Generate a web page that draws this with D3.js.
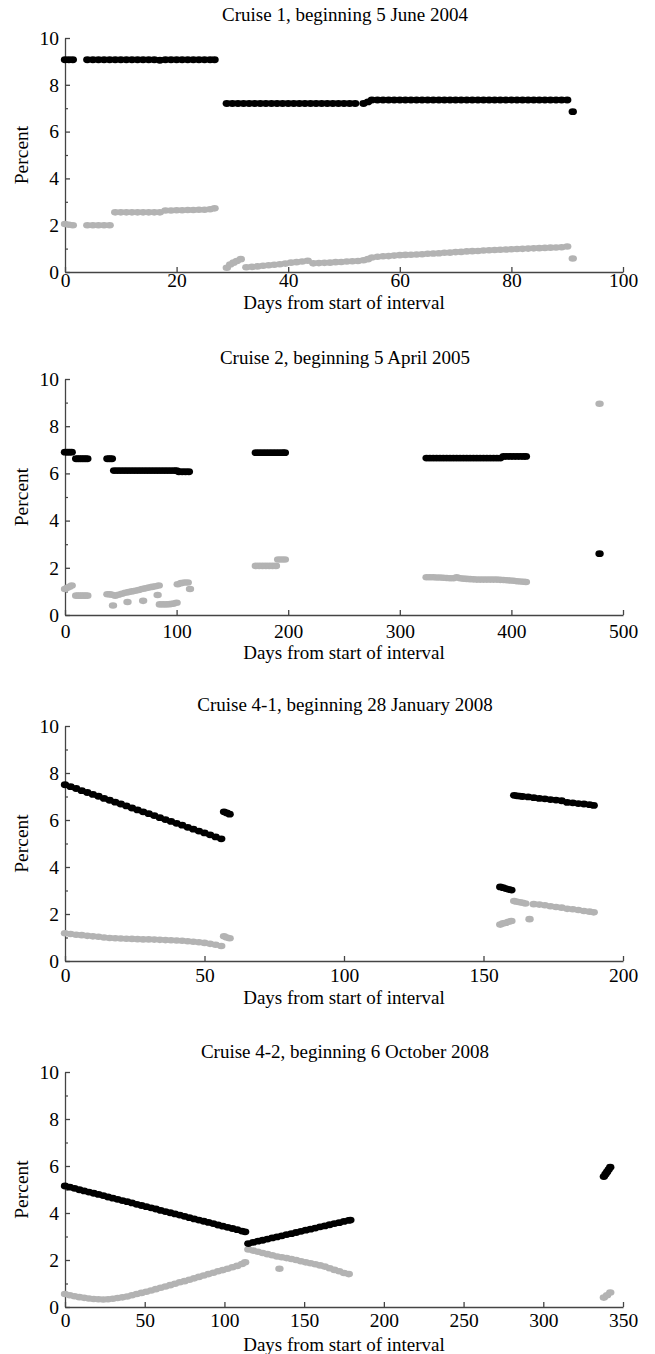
<!DOCTYPE html>
<html><head><meta charset="utf-8">
<script src="https://cdn.jsdelivr.net/npm/d3@7"></script>
<style>
body{margin:0;background:#fff}
svg{display:block}
</style>
</head><body><svg id="chart" width="655" height="1354"></svg>
<script>
// ---------------- DATA ----------------
const titles = [
  "Cruise 1, beginning 5 June 2004",
  "Cruise 2, beginning 5 April 2005",
  "Cruise 4-1, beginning 28 January 2008",
  "Cruise 4-2, beginning 6 October 2008"
];
const xAxisLabel = "Days from start of interval";
const yAxisLabel = "Percent";
const xDomains = [[0,100],[0,500],[0,200],[0,350]];
const xTickValues = [
  [0,20,40,60,80,100],
  [0,100,200,300,400,500],
  [0,50,100,150,200],
  [0,50,100,150,200,250,300,350]
];
const yTickValues = [0,2,4,6,8,10];
const yMinorTickValues = [1,3,5,7,9];

// Cruise 1 — [day, percent]
const cruise1Black = [
  [0,9.07],[0.7,9.07],[1.4,9.07],
  [4,9.07],[5,9.07],[6,9.07],[7,9.07],[8,9.07],[9,9.07],[10,9.07],[11,9.07],[12,9.07],[13,9.07],[14,9.07],[15,9.07],[16,9.07],[17,9.05],[18,9.07],[19,9.07],[20,9.07],[21,9.07],[22,9.07],[23,9.07],[24,9.07],[25,9.07],[26,9.07],[26.8,9.07],
  [29,7.2],[30,7.2],[31,7.2],[32,7.2],[33,7.2],[34,7.2],[35,7.2],[36,7.2],[37,7.2],[38,7.2],[39,7.2],[40,7.2],[41,7.2],[42,7.2],[43,7.2],[44,7.2],[45,7.2],[46,7.2],[47,7.2],[48,7.2],[49,7.2],[50,7.2],[51,7.2],[52,7.2],
  [53.5,7.2],[54.3,7.27],[55,7.35],[56,7.35],[57,7.35],[58,7.35],[59,7.35],[60,7.35],[61,7.35],[62,7.35],[63,7.35],[64,7.35],[65,7.35],[66,7.35],[67,7.35],[68,7.35],[69,7.35],[70,7.35],[71,7.35],[72,7.35],[73,7.35],[74,7.35],[75,7.35],[76,7.35],[77,7.35],[78,7.35],[79,7.35],[80,7.35],[81,7.35],[82,7.35],[83,7.35],[84,7.35],[85,7.35],[86,7.35],[87,7.35],[88,7.35],[89,7.35],[90,7.35],
  [91,6.85]
];
const cruise1Gray = [
  [0,2.05],[0.7,2.02],[1.4,2.0],
  [4,2.0],[5,2.0],[6,2.0],[7,2.0],[8,2.0],
  [9,2.55],[10,2.55],[11,2.55],[12,2.55],[13,2.55],[14,2.55],[15,2.55],[16,2.55],[17,2.55],
  [18,2.63],[19,2.63],[20,2.64],[21,2.64],[22,2.65],[23,2.65],[24,2.66],[25,2.66],[26,2.68],[26.8,2.72],
  [29,0.18],[29.6,0.32],[30.2,0.4],[30.8,0.47],[31.5,0.55],
  [32.5,0.2],[33.5,0.22],[34.5,0.24],[35.5,0.27],[36.5,0.29],[37.5,0.31],[38.5,0.33],[39.5,0.36],[40.5,0.4],[41.5,0.42],[42.5,0.45],[43.5,0.48],
  [44.5,0.37],[45.5,0.38],[46.5,0.39],[47.5,0.4],[48.5,0.42],[49.5,0.43],[50.5,0.45],[51.5,0.46],[52.5,0.47],
  [53.5,0.5],[54.3,0.55],[55,0.62],
  [56,0.65],[57,0.67],[58,0.68],[59,0.7],[60,0.72],[61,0.73],[62,0.74],[63,0.75],[64,0.76],[65,0.78],[66,0.79],[67,0.8],[68,0.82],[69,0.83],[70,0.85],[71,0.86],[72,0.88],[73,0.89],[74,0.9],[75,0.92],[76,0.93],[77,0.94],[78,0.95],[79,0.96],[80,0.97],[81,0.98],[82,0.99],[83,1.0],[84,1.01],[85,1.02],[86,1.03],[87,1.04],[88,1.05],[89,1.06],[90,1.09],
  [91,0.58]
];

// Cruise 2
const cruise2Black = [
  [0,6.9],[2,6.9],[4,6.9],[6,6.9],
  [10,6.62],[12,6.62],[14,6.62],[16,6.62],[18,6.62],[20,6.62],
  [38,6.62],[40,6.62],[42,6.62],
  [44,6.12],[47,6.12],[50,6.12],[53,6.12],[56,6.12],[59,6.12],[62,6.12],[65,6.12],[68,6.12],[71,6.12],[74,6.12],[77,6.12],[80,6.12],[83,6.12],[86,6.12],[89,6.12],[92,6.12],[95,6.12],[98,6.12],[100,6.12],
  [102,6.07],[105,6.07],[108,6.07],[111,6.07],
  [171,6.88],[174,6.88],[177,6.88],[180,6.88],[183,6.88],[186,6.88],[189,6.88],[192,6.88],[195,6.88],[197,6.88],
  [324,6.65],[327,6.65],[330,6.65],[333,6.65],[336,6.65],[339,6.65],[342,6.65],[345,6.65],[348,6.65],[351,6.65],[354,6.65],[357,6.65],[360,6.65],[363,6.65],[366,6.65],[369,6.65],[372,6.65],[375,6.65],[378,6.65],[381,6.65],[384,6.65],[387,6.65],[390,6.65],
  [393,6.72],[396,6.72],[399,6.72],[402,6.72],[405,6.72],[408,6.72],[411,6.72],[413,6.72],
  [479,2.6]
];
const cruise2Gray = [
  [0,1.1],[2,1.15],[4,1.2],[6,1.25],
  [10,0.82],[12,0.82],[14,0.82],[16,0.82],[18,0.82],[20,0.82],
  [38,0.88],[40,0.88],[42,0.86],
  [43,0.4],
  [45,0.82],[48,0.86],[51,0.9],[54,0.94],[57,0.97],[60,1.0],[63,1.03],[66,1.06],[69,1.1],[72,1.13],[75,1.16],[78,1.19],[81,1.22],[84,1.25],
  [56,0.55],[70,0.6],[83,0.85],
  [85,0.45],[88,0.45],[91,0.45],[94,0.46],[97,0.48],[100,0.52],
  [101,1.3],[104,1.35],[107,1.38],[110,1.38],
  [112,1.1],
  [171,2.08],[174,2.08],[177,2.08],[180,2.08],[183,2.08],[186,2.08],[189,2.08],
  [191,2.35],[194,2.35],[197,2.35],
  [324,1.6],[327,1.6],[330,1.6],[333,1.59],[336,1.59],[339,1.58],[342,1.57],[345,1.56],[348,1.56],[351,1.6],[354,1.56],[357,1.54],[360,1.53],[363,1.52],[366,1.51],[369,1.5],[372,1.5],[375,1.5],[378,1.5],[381,1.5],[384,1.5],[387,1.5],[390,1.49],[393,1.48],[396,1.47],[399,1.46],[402,1.45],[405,1.43],[408,1.42],[411,1.41],[413,1.4],
  [479,8.95]
];

// Cruise 4-1
const cruise41Black = [
  [0,7.5],[2,7.42],[4,7.34],[6,7.25],[8,7.17],[10,7.09],[12,7.01],[14,6.92],[16,6.84],[18,6.76],[20,6.68],[22,6.6],[24,6.51],[26,6.43],[28,6.35],[30,6.27],[32,6.19],[34,6.1],[36,6.02],[38,5.94],[40,5.86],[42,5.78],[44,5.69],[46,5.61],[48,5.53],[50,5.45],[52,5.37],[54,5.28],[56,5.2],
  [57,6.35],[58,6.3],[59,6.25],
  [156,3.15],[157,3.12],[158,3.08],[159,3.05],[160,3.02],
  [161,7.05],[162,7.03],[163,7.02],[164,7.0],[166,6.98],[168,6.95],[170,6.92],[172,6.9],[174,6.87],[176,6.85],[178,6.82],[180,6.75],[182,6.73],[184,6.7],[186,6.68],[188,6.65],[189.5,6.62]
];
const cruise41Gray = [
  [0,1.18],[2,1.15],[4,1.12],[6,1.1],[8,1.07],[10,1.05],[12,1.03],[14,1.0],[16,0.98],[18,0.97],[20,0.96],[22,0.95],[24,0.94],[26,0.93],[28,0.92],[30,0.92],[32,0.91],[34,0.9],[36,0.89],[38,0.88],[40,0.87],[42,0.86],[44,0.84],[46,0.82],[48,0.8],[50,0.77],[52,0.73],[54,0.69],[56,0.64],
  [57,1.05],[58,1.0],[59,0.97],
  [156,1.55],[157,1.6],[158,1.63],[159,1.67],[160,1.7],
  [161,2.55],[162,2.52],[163,2.5],[164,2.48],[165,2.45],
  [166.5,1.78],
  [168,2.42],[170,2.4],[172,2.37],[174,2.33],[176,2.3],[178,2.27],[180,2.22],[182,2.2],[184,2.17],[186,2.13],[188,2.1],[189.5,2.07]
];

// Cruise 4-2
const cruise42Black = [
  [0,5.15],[3,5.1],[6,5.05],[9,4.99],[12,4.94],[15,4.89],[18,4.84],[21,4.79],[24,4.74],[27,4.68],[30,4.63],[33,4.58],[36,4.53],[39,4.48],[42,4.43],[45,4.37],[48,4.32],[51,4.27],[54,4.22],[57,4.17],[60,4.11],[63,4.06],[66,4.01],[69,3.96],[72,3.91],[75,3.86],[78,3.8],[81,3.75],[84,3.7],[87,3.65],[90,3.6],[93,3.55],[96,3.49],[99,3.44],[102,3.39],[105,3.34],[108,3.29],[111,3.23],[113,3.2],
  [115,2.7],[118,2.75],[121,2.8],[124,2.84],[127,2.89],[130,2.94],[133,2.98],[136,3.03],[139,3.08],[142,3.12],[145,3.17],[148,3.22],[151,3.27],[154,3.31],[157,3.36],[160,3.41],[163,3.45],[166,3.5],[169,3.55],[172,3.59],[175,3.64],[178,3.69],[179,3.7],
  [338,5.55],[339,5.65],[340,5.75],[341,5.85],[342,5.95]
];
const cruise42Gray = [
  [0,0.55],[3,0.5],[6,0.46],[9,0.42],[12,0.39],[15,0.36],[18,0.34],[21,0.33],[24,0.32],[27,0.33],[30,0.35],[33,0.38],[36,0.41],[39,0.45],[42,0.5],[45,0.55],[48,0.6],[51,0.65],[54,0.7],[57,0.76],[60,0.82],[63,0.87],[66,0.93],[69,0.99],[72,1.05],[75,1.1],[78,1.16],[81,1.22],[84,1.28],[87,1.34],[90,1.4],[93,1.46],[96,1.52],[99,1.57],[102,1.63],[105,1.69],[108,1.75],[111,1.83],[113,1.9],
  [115,2.45],[118,2.4],[121,2.35],[124,2.3],[127,2.25],[130,2.2],[133,2.15],[136,2.12],[139,2.08],[142,2.04],[145,2.0],[148,1.95],[151,1.9],[154,1.86],[157,1.82],[160,1.77],[163,1.72],[166,1.65],[169,1.58],[172,1.52],[175,1.45],[178,1.4],
  [134.5,1.63],
  [338,0.4],[340,0.5],[342,0.62]
];

const blackSeries = [cruise1Black, cruise2Black, cruise41Black, cruise42Black];
const graySeries = [cruise1Gray, cruise2Gray, cruise41Gray, cruise42Gray];

// ---------------- LAYOUT ----------------
const FONT = "'Liberation Serif','Times New Roman',serif";
const plotLeft = 65, plotRight = 623;
const layout = [
  {top: 38,  bottom: 272,  titleY: 21,   tickPad: 1,  labelY: 309},
  {top: 379, bottom: 615,  titleY: 364,  tickPad: 9,  labelY: 659},
  {top: 726, bottom: 961,  titleY: 711,  tickPad: 7,  labelY: 1004},
  {top: 1072,bottom: 1307, titleY: 1058, tickPad: 6,  labelY: 1351}
];

const svg = d3.select("#chart");
svg.append("rect").attr("width",655).attr("height",1354).attr("fill","#fff");

layout.forEach((L, i) => {
  const x = d3.scaleLinear().domain(xDomains[i]).range([plotLeft, plotRight]);
  const y = d3.scaleLinear().domain([0,10]).range([L.bottom, L.top]);
  const g = svg.append("g");

  g.append("text").attr("x", (plotLeft+plotRight)/2 + 1).attr("y", L.titleY)
    .attr("text-anchor","middle").attr("font-family",FONT).attr("font-size",19)
    .text(titles[i]);

  const xa = g.append("g").attr("transform",`translate(0,${L.bottom})`)
    .call(d3.axisBottom(x).tickValues(xTickValues[i]).tickSizeInner(-5).tickSizeOuter(0).tickPadding(L.tickPad).tickFormat(d3.format("d")));
  xa.attr("font-family",FONT).attr("font-size",19.5);
  xa.selectAll("path,line").attr("stroke","#444").attr("stroke-width",1.3);

  const ya = g.append("g").attr("transform",`translate(${plotLeft},0)`)
    .call(d3.axisLeft(y).tickValues(yTickValues).tickSizeInner(-5).tickSizeOuter(0).tickPadding(6).tickFormat(d3.format("d")));
  ya.attr("font-family",FONT).attr("font-size",19.5);
  ya.selectAll("path,line").attr("stroke","#444").attr("stroke-width",1.3);

  const ym = g.append("g").attr("transform",`translate(${plotLeft},0)`)
    .call(d3.axisLeft(y).tickValues(yMinorTickValues).tickSizeInner(-3).tickSizeOuter(0).tickFormat(""));
  ym.select(".domain").remove();
  ym.selectAll("line").attr("stroke","#444").attr("stroke-width",1.2);

  g.append("text").attr("x",(plotLeft+plotRight)/2).attr("y",L.labelY)
    .attr("text-anchor","middle").attr("font-family",FONT).attr("font-size",19)
    .text(xAxisLabel);
  g.append("text").attr("transform",`translate(28,${(L.top+L.bottom)/2}) rotate(-90)`)
    .attr("text-anchor","middle").attr("font-family",FONT).attr("font-size",19.5)
    .text(yAxisLabel);

  g.append("g").selectAll("ellipse").data(graySeries[i]).join("ellipse")
    .attr("cx", d => x(d[0])).attr("cy", d => y(d[1])).attr("rx", 4.2).attr("ry", 3.3).attr("fill","#b3b3b3");
  g.append("g").selectAll("ellipse").data(blackSeries[i]).join("ellipse")
    .attr("cx", d => x(d[0])).attr("cy", d => y(d[1])).attr("rx", 4.2).attr("ry", 3.4).attr("fill","#000");
});
</script>
</body></html>
